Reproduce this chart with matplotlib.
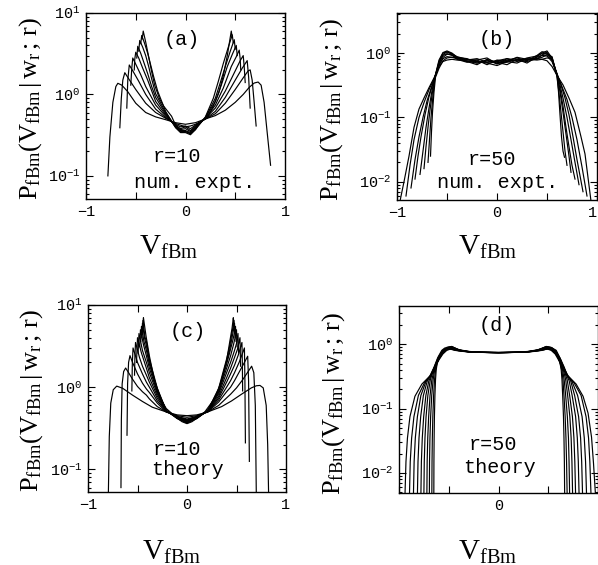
import matplotlib
matplotlib.use('Agg')
import matplotlib.pyplot as plt
from matplotlib.ticker import FixedLocator, FixedFormatter, LogLocator, NullFormatter

plt.rcParams['font.family'] = 'Liberation Mono'
plt.rcParams['mathtext.fontset'] = 'custom'
plt.rcParams['mathtext.rm'] = 'Liberation Serif'
plt.rcParams['mathtext.it'] = 'Liberation Serif:italic'
plt.rcParams['mathtext.bf'] = 'Liberation Serif:bold'
plt.rcParams['mathtext.tt'] = 'Liberation Mono'

# ---- (a) r=10, numerical experiment ----
a_x = [
    [-0.78,-0.76,-0.73,-0.70,-0.68,-0.64,-0.58,-0.50,-0.40,-0.30,-0.20,-0.10,-0.05,0.00,0.05,0.10,0.20,0.30,0.40,0.50,0.58,0.64,0.69,0.73,0.76,0.79,0.82,0.855],
    [-0.66,-0.645,-0.63,-0.61,-0.57,-0.50,-0.40,-0.30,-0.20,-0.10,-0.05,0.00,0.05,0.10,0.20,0.30,0.40,0.50,0.58,0.63,0.65,0.67,0.69,0.71],
    [-0.59,-0.58,-0.565,-0.53,-0.47,-0.40,-0.30,-0.20,-0.10,-0.05,0.00,0.05,0.10,0.20,0.30,0.40,0.50,0.57,0.62,0.635,0.65],
    [-0.55,-0.54,-0.53,-0.50,-0.45,-0.40,-0.30,-0.20,-0.10,-0.05,0.00,0.05,0.10,0.20,0.30,0.40,0.50,0.55,0.58,0.59,0.60],
    [-0.515,-0.51,-0.50,-0.47,-0.43,-0.38,-0.30,-0.20,-0.10,-0.05,0.00,0.05,0.10,0.20,0.30,0.38,0.46,0.51,0.54,0.55,0.555],
    [-0.49,-0.48,-0.45,-0.42,-0.38,-0.34,-0.30,-0.20,-0.10,-0.05,0.00,0.05,0.10,0.20,0.30,0.36,0.42,0.47,0.51,0.52],
    [-0.47,-0.46,-0.43,-0.40,-0.37,-0.34,-0.30,-0.20,-0.10,-0.05,0.00,0.05,0.10,0.20,0.30,0.35,0.40,0.45,0.49,0.50],
    [-0.45,-0.44,-0.41,-0.38,-0.35,-0.32,-0.28,-0.20,-0.10,-0.05,0.00,0.05,0.10,0.20,0.28,0.33,0.38,0.43,0.47,0.48],
    [-0.435,-0.425,-0.40,-0.375,-0.34,-0.31,-0.26,-0.22,-0.14,-0.10,-0.05,0.00,0.05,0.10,0.14,0.22,0.28,0.335,0.38,0.42,0.46,0.47],
]
a_y = [
    [0.10,0.30,0.80,1.25,1.37,1.30,1.08,0.78,0.60,0.53,0.49,0.45,0.44,0.43,0.44,0.45,0.50,0.55,0.64,0.80,1.00,1.22,1.38,1.42,1.30,0.80,0.35,0.135],
    [0.39,0.90,1.50,1.85,1.55,1.15,0.78,0.60,0.51,0.44,0.42,0.40,0.41,0.43,0.50,0.58,0.78,1.15,1.60,1.95,2.00,1.50,0.80,0.41],
    [0.68,1.50,2.30,1.95,1.45,1.00,0.66,0.52,0.43,0.40,0.41,0.38,0.42,0.50,0.62,0.92,1.50,2.10,2.60,1.60,0.68],
    [1.30,2.10,2.80,2.35,1.75,1.25,0.74,0.54,0.42,0.38,0.40,0.36,0.41,0.51,0.68,1.10,1.95,2.60,3.00,2.20,1.40],
    [2.0,2.7,3.3,2.8,2.1,1.5,0.82,0.56,0.41,0.37,0.38,0.35,0.40,0.51,0.74,1.20,2.20,2.90,3.50,2.70,2.00],
    [2.8,3.9,3.2,2.5,1.8,1.25,0.92,0.58,0.40,0.36,0.36,0.34,0.39,0.52,0.82,1.30,2.20,3.10,4.00,3.00],
    [3.4,4.6,3.8,3.0,2.2,1.55,1.02,0.60,0.40,0.35,0.35,0.33,0.38,0.52,0.90,1.40,2.20,3.40,4.70,3.60],
    [4.2,5.3,4.2,3.2,2.3,1.65,1.10,0.62,0.39,0.34,0.34,0.32,0.37,0.53,0.90,1.45,2.40,3.80,5.40,4.30],
    [4.8,6.0,4.4,3.1,1.9,1.30,0.88,0.72,0.54,0.42,0.36,0.35,0.33,0.37,0.45,0.52,0.72,1.05,1.70,3.00,6.00,5.00],
]

# ---- (b) r=50, numerical experiment ----
b_x = [
    [-0.97,-0.93,-0.88,-0.83,-0.78,-0.73,-0.68,-0.62,-0.58,-0.54,-0.50,-0.45,-0.40,-0.30,-0.20,-0.10,0.00,0.10,0.20,0.30,0.40,0.45,0.50,0.55,0.60,0.66,0.72,0.78,0.84,0.88,0.94],
    [-0.91,-0.87,-0.83,-0.78,-0.73,-0.68,-0.62,-0.58,-0.54,-0.50,-0.45,-0.40,-0.30,-0.20,-0.10,0.00,0.10,0.20,0.30,0.40,0.45,0.50,0.55,0.60,0.65,0.70,0.75,0.80,0.85,0.90],
    [-0.86,-0.82,-0.78,-0.74,-0.70,-0.66,-0.62,-0.58,-0.54,-0.50,-0.45,-0.40,-0.30,-0.20,-0.10,0.00,0.10,0.20,0.30,0.40,0.45,0.50,0.55,0.60,0.64,0.68,0.72,0.76,0.80,0.86],
    [-0.82,-0.79,-0.76,-0.72,-0.68,-0.65,-0.62,-0.58,-0.54,-0.50,-0.45,-0.40,-0.30,-0.20,-0.10,0.00,0.10,0.20,0.30,0.40,0.45,0.50,0.55,0.60,0.63,0.66,0.70,0.74,0.78,0.82],
    [-0.77,-0.74,-0.71,-0.68,-0.65,-0.62,-0.58,-0.54,-0.50,-0.45,-0.40,-0.30,-0.20,-0.10,0.00,0.10,0.20,0.30,0.40,0.45,0.50,0.55,0.60,0.63,0.66,0.69,0.72,0.75,0.78],
    [-0.73,-0.71,-0.69,-0.67,-0.645,-0.62,-0.58,-0.54,-0.50,-0.45,-0.40,-0.30,-0.20,-0.10,0.00,0.10,0.20,0.30,0.40,0.45,0.50,0.55,0.60,0.63,0.66,0.69,0.72,0.74],
    [-0.69,-0.675,-0.66,-0.64,-0.62,-0.58,-0.54,-0.50,-0.45,-0.40,-0.30,-0.20,-0.10,0.00,0.10,0.20,0.30,0.40,0.45,0.50,0.55,0.60,0.62,0.64,0.66,0.68,0.70],
    [-0.665,-0.655,-0.645,-0.63,-0.615,-0.58,-0.54,-0.50,-0.45,-0.40,-0.30,-0.20,-0.10,0.00,0.10,0.20,0.30,0.40,0.45,0.50,0.55,0.60,0.615,0.63,0.645,0.66,0.675],
]
b_y = [
    [0.005,0.010,0.025,0.07,0.135,0.20,0.29,0.44,0.62,0.74,0.78,0.80,0.78,0.76,0.74,0.72,0.74,0.76,0.78,0.80,0.82,0.80,0.76,0.62,0.45,0.32,0.20,0.12,0.05,0.027,0.005],
    [0.006,0.018,0.045,0.10,0.17,0.27,0.43,0.66,0.82,0.88,0.86,0.82,0.74,0.70,0.76,0.70,0.72,0.80,0.78,0.86,0.92,0.90,0.74,0.47,0.30,0.19,0.10,0.045,0.017,0.006],
    [0.008,0.022,0.05,0.10,0.18,0.28,0.43,0.70,0.92,0.98,0.92,0.84,0.78,0.82,0.72,0.76,0.82,0.74,0.84,0.90,1.00,0.96,0.78,0.48,0.32,0.20,0.11,0.05,0.022,0.007],
    [0.011,0.025,0.05,0.11,0.21,0.30,0.43,0.74,1.00,1.05,0.95,0.80,0.72,0.78,0.84,0.68,0.78,0.84,0.76,0.92,1.05,1.02,0.80,0.47,0.32,0.20,0.10,0.045,0.02,0.009],
    [0.013,0.03,0.07,0.14,0.26,0.43,0.78,1.02,1.08,1.00,0.86,0.74,0.66,0.80,0.72,0.66,0.80,0.70,0.88,1.00,1.08,0.84,0.46,0.28,0.15,0.07,0.035,0.018,0.011],
    [0.016,0.035,0.07,0.13,0.25,0.42,0.70,0.95,1.04,0.98,0.88,0.80,0.74,0.70,0.64,0.74,0.70,0.82,0.80,0.94,1.00,0.86,0.45,0.25,0.12,0.055,0.025,0.014],
    [0.020,0.045,0.10,0.22,0.42,0.64,0.86,0.96,0.94,0.86,0.82,0.70,0.78,0.68,0.82,0.76,0.74,0.82,0.86,0.94,0.88,0.44,0.24,0.12,0.06,0.03,0.018],
    [0.025,0.06,0.12,0.25,0.42,0.58,0.76,0.84,0.86,0.84,0.80,0.78,0.66,0.78,0.74,0.86,0.80,0.78,0.80,0.84,0.82,0.44,0.25,0.11,0.05,0.03,0.024],
]

# ---- (c) r=10, theory ----
c_x = [
    [-0.795,-0.785,-0.77,-0.745,-0.71,-0.65,-0.55,-0.45,-0.35,-0.21,-0.10,0.00,0.10,0.21,0.35,0.45,0.55,0.65,0.70,0.737,0.77,0.80,0.815,0.825],
    [-0.667,-0.663,-0.655,-0.64,-0.62,-0.59,-0.55,-0.50,-0.45,-0.41,-0.38,-0.30,-0.21,-0.10,0.00,0.10,0.21,0.32,0.40,0.44,0.50,0.56,0.61,0.653,0.675,0.69,0.70],
    [-0.606,-0.600,-0.59,-0.576,-0.55,-0.50,-0.45,-0.41,-0.38,-0.30,-0.21,-0.10,0.00,0.10,0.21,0.32,0.40,0.44,0.48,0.53,0.58,0.613,0.622,0.63],
    [-0.557,-0.552,-0.545,-0.50,-0.45,-0.41,-0.38,-0.30,-0.21,-0.10,0.00,0.10,0.21,0.32,0.40,0.44,0.48,0.53,0.58,0.585,0.59],
    [-0.53,-0.526,-0.52,-0.48,-0.45,-0.41,-0.38,-0.30,-0.21,-0.10,0.00,0.10,0.21,0.32,0.40,0.44,0.48,0.52,0.555,0.559,0.562],
    [-0.51,-0.505,-0.50,-0.46,-0.41,-0.38,-0.30,-0.21,-0.10,0.00,0.10,0.21,0.32,0.40,0.44,0.48,0.51,0.535,0.538,0.541],
    [-0.494,-0.49,-0.485,-0.45,-0.41,-0.38,-0.30,-0.21,-0.10,0.00,0.10,0.21,0.32,0.40,0.44,0.48,0.50,0.515,0.518,0.521],
    [-0.478,-0.474,-0.47,-0.44,-0.41,-0.38,-0.30,-0.21,-0.10,0.00,0.10,0.21,0.32,0.40,0.44,0.47,0.49,0.50,0.503,0.506],
    [-0.467,-0.463,-0.46,-0.435,-0.41,-0.38,-0.30,-0.21,-0.10,0.00,0.10,0.21,0.32,0.40,0.43,0.46,0.48,0.49,0.493,0.496],
    [-0.456,-0.453,-0.45,-0.43,-0.41,-0.38,-0.30,-0.21,-0.10,0.00,0.10,0.21,0.32,0.40,0.43,0.455,0.47,0.48,0.483,0.486],
    [-0.45,-0.448,-0.445,-0.425,-0.41,-0.38,-0.30,-0.21,-0.10,0.00,0.10,0.21,0.32,0.40,0.43,0.45,0.465,0.475,0.478,0.48],
    [-0.447,-0.444,-0.44,-0.414,-0.38,-0.33,-0.26,-0.21,-0.145,-0.10,-0.05,0.00,0.05,0.10,0.18,0.283,0.35,0.40,0.434,0.455,0.468,0.472,0.475],
]
c_y = [
    [0.045,0.25,0.64,0.93,1.03,0.97,0.80,0.67,0.57,0.50,0.46,0.45,0.46,0.50,0.58,0.68,0.82,0.98,1.04,1.05,0.98,0.60,0.20,0.045],
    [0.06,0.40,1.10,1.55,1.71,1.50,1.25,1.02,0.88,0.80,0.72,0.58,0.50,0.45,0.43,0.45,0.50,0.60,0.74,0.82,0.98,1.22,1.50,1.80,1.50,0.60,0.05],
    [0.26,1.10,2.00,2.42,2.00,1.45,1.12,0.95,0.86,0.64,0.50,0.44,0.41,0.44,0.50,0.66,0.88,1.00,1.20,1.55,2.00,2.38,1.20,0.125],
    [0.9,2.0,3.0,2.0,1.45,1.15,1.0,0.68,0.51,0.44,0.40,0.44,0.51,0.70,1.00,1.20,1.50,2.05,3.00,1.20,0.21],
    [1.4,2.4,3.5,2.3,1.8,1.4,1.15,0.73,0.51,0.435,0.395,0.435,0.51,0.74,1.15,1.45,1.85,2.50,3.50,2.00,0.90],
    [2.0,2.9,4.0,2.6,1.7,1.3,0.78,0.515,0.43,0.39,0.43,0.515,0.78,1.30,1.70,2.30,2.90,4.00,2.80,1.80],
    [2.6,3.4,4.5,2.8,2.0,1.5,0.83,0.52,0.43,0.385,0.43,0.52,0.83,1.50,2.00,2.80,3.40,4.50,3.40,2.60],
    [3.1,3.9,5.0,3.3,2.4,1.7,0.87,0.52,0.425,0.38,0.425,0.52,0.87,1.70,2.40,3.30,4.20,5.00,3.90,3.10],
    [3.6,4.4,5.5,3.6,2.8,1.9,0.91,0.52,0.42,0.375,0.42,0.52,0.91,1.90,2.60,3.60,4.60,5.50,4.40,3.60],
    [4.0,4.8,6.0,4.0,3.2,2.05,0.94,0.52,0.42,0.37,0.42,0.52,0.94,2.05,2.80,4.00,5.00,6.00,4.80,4.00],
    [4.4,5.2,6.5,4.1,3.6,2.2,0.97,0.52,0.415,0.365,0.415,0.52,0.97,2.20,3.10,4.30,5.40,6.50,5.30,4.60],
    [5.0,6.0,7.0,4.2,2.4,1.23,0.70,0.55,0.47,0.42,0.38,0.36,0.38,0.42,0.50,0.74,1.20,2.10,3.70,5.20,7.00,6.00,5.20],
]

# ---- (d) r=50, theory ----
d_x = [
    [-0.94,-0.93,-0.915,-0.89,-0.84,-0.77,-0.69,-0.65,-0.61,-0.57,-0.54,-0.50,-0.44,-0.36,-0.25,-0.12,0.00,0.12,0.25,0.36,0.44,0.50,0.54,0.58,0.62,0.66,0.70,0.78,0.85,0.90,0.935,0.955,0.975],
    [-0.895,-0.887,-0.873,-0.85,-0.805,-0.745,-0.68,-0.645,-0.61,-0.57,-0.53,-0.49,-0.42,-0.34,-0.22,-0.10,0.00,0.10,0.22,0.34,0.42,0.50,0.54,0.58,0.62,0.66,0.69,0.76,0.83,0.88,0.905,0.918,0.93],
    [-0.855,-0.848,-0.836,-0.815,-0.78,-0.73,-0.675,-0.64,-0.61,-0.57,-0.52,-0.48,-0.40,-0.30,-0.18,0.00,0.18,0.30,0.40,0.49,0.53,0.58,0.62,0.65,0.685,0.74,0.795,0.84,0.862,0.875,0.885],
    [-0.815,-0.809,-0.799,-0.782,-0.755,-0.715,-0.67,-0.635,-0.60,-0.56,-0.52,-0.47,-0.40,-0.30,-0.18,0.00,0.18,0.30,0.40,0.48,0.53,0.57,0.61,0.645,0.68,0.725,0.765,0.805,0.825,0.836,0.845],
    [-0.78,-0.775,-0.766,-0.752,-0.73,-0.70,-0.665,-0.635,-0.60,-0.56,-0.51,-0.46,-0.38,-0.28,-0.15,0.00,0.15,0.28,0.38,0.47,0.52,0.57,0.61,0.645,0.675,0.71,0.74,0.775,0.792,0.802,0.81],
    [-0.75,-0.746,-0.739,-0.728,-0.71,-0.685,-0.66,-0.63,-0.60,-0.56,-0.51,-0.46,-0.38,-0.28,-0.15,0.00,0.15,0.28,0.38,0.47,0.52,0.57,0.605,0.635,0.665,0.69,0.715,0.743,0.758,0.767,0.775],
    [-0.72,-0.717,-0.711,-0.702,-0.688,-0.67,-0.65,-0.625,-0.595,-0.56,-0.52,-0.48,-0.40,-0.30,-0.15,0.00,0.15,0.30,0.40,0.49,0.53,0.57,0.60,0.63,0.655,0.675,0.695,0.717,0.73,0.738,0.745],
    [-0.695,-0.693,-0.689,-0.682,-0.671,-0.657,-0.642,-0.622,-0.595,-0.56,-0.52,-0.47,-0.40,-0.30,-0.15,0.00,0.15,0.30,0.40,0.48,0.53,0.57,0.60,0.625,0.645,0.66,0.675,0.692,0.703,0.709,0.715],
    [-0.67,-0.668,-0.665,-0.66,-0.652,-0.643,-0.633,-0.618,-0.595,-0.56,-0.52,-0.48,-0.40,-0.30,-0.15,0.00,0.15,0.30,0.40,0.49,0.53,0.57,0.60,0.62,0.637,0.648,0.658,0.67,0.678,0.684,0.69],
    [-0.65,-0.649,-0.647,-0.644,-0.639,-0.633,-0.626,-0.615,-0.595,-0.56,-0.52,-0.48,-0.40,-0.30,-0.15,0.00,0.15,0.30,0.40,0.49,0.53,0.57,0.60,0.617,0.63,0.638,0.645,0.653,0.658,0.662,0.665],
]
d_y = [
    [0.0045,0.015,0.035,0.075,0.155,0.24,0.32,0.43,0.62,0.80,0.87,0.85,0.80,0.77,0.75,0.74,0.735,0.74,0.75,0.77,0.80,0.85,0.87,0.80,0.60,0.42,0.32,0.24,0.155,0.085,0.036,0.014,0.0045],
    [0.0045,0.015,0.035,0.075,0.16,0.25,0.33,0.44,0.60,0.76,0.86,0.88,0.81,0.77,0.75,0.74,0.74,0.74,0.75,0.77,0.81,0.88,0.86,0.76,0.60,0.44,0.33,0.25,0.16,0.075,0.035,0.015,0.0045],
    [0.0045,0.015,0.035,0.075,0.16,0.26,0.34,0.45,0.58,0.74,0.88,0.90,0.82,0.77,0.75,0.74,0.75,0.77,0.82,0.90,0.88,0.74,0.58,0.45,0.34,0.26,0.16,0.075,0.035,0.015,0.0045],
    [0.0045,0.015,0.035,0.075,0.16,0.27,0.35,0.46,0.60,0.75,0.87,0.91,0.81,0.76,0.745,0.735,0.745,0.76,0.81,0.91,0.87,0.75,0.60,0.46,0.35,0.27,0.16,0.075,0.035,0.015,0.0045],
    [0.0045,0.015,0.035,0.075,0.16,0.27,0.36,0.46,0.58,0.72,0.84,0.86,0.80,0.76,0.745,0.74,0.745,0.76,0.80,0.86,0.84,0.72,0.58,0.46,0.36,0.27,0.16,0.075,0.035,0.015,0.0045],
    [0.0045,0.015,0.035,0.075,0.16,0.28,0.37,0.47,0.60,0.76,0.89,0.90,0.80,0.76,0.745,0.735,0.745,0.76,0.80,0.90,0.89,0.76,0.60,0.47,0.37,0.28,0.16,0.075,0.035,0.015,0.0045],
    [0.0045,0.015,0.035,0.075,0.16,0.28,0.38,0.48,0.58,0.70,0.80,0.84,0.79,0.76,0.745,0.74,0.745,0.76,0.79,0.84,0.80,0.70,0.58,0.48,0.38,0.28,0.16,0.075,0.035,0.015,0.0045],
    [0.0045,0.015,0.035,0.075,0.16,0.28,0.39,0.49,0.62,0.78,0.89,0.92,0.81,0.76,0.745,0.74,0.745,0.76,0.81,0.92,0.89,0.78,0.62,0.49,0.39,0.28,0.16,0.075,0.035,0.015,0.0045],
    [0.0045,0.015,0.035,0.075,0.16,0.28,0.39,0.50,0.62,0.74,0.82,0.84,0.79,0.755,0.745,0.74,0.745,0.755,0.79,0.84,0.82,0.74,0.62,0.50,0.39,0.28,0.16,0.075,0.035,0.015,0.0045],
    [0.0045,0.015,0.035,0.075,0.16,0.28,0.40,0.52,0.66,0.80,0.88,0.89,0.80,0.76,0.745,0.735,0.745,0.76,0.80,0.89,0.88,0.80,0.66,0.52,0.40,0.28,0.16,0.075,0.035,0.015,0.0045],
]

panel_tags = ['(a)', '(b)', '(c)', '(d)']
r_labels = ['r=10', 'r=50', 'r=10', 'r=50']
kind_labels = ['num. expt.', 'num. expt.', 'theory', 'theory']

W, H = 598, 565
fig = plt.figure(figsize=(W / 100, H / 100), dpi=100)

def px_axes(left, top, right, bottom):
    return fig.add_axes([left / W, 1 - bottom / H, (right - left) / W, (bottom - top) / H])

ax_a = px_axes(86, 13, 285, 199)
ax_b = px_axes(397, 13, 597, 200)
ax_c = px_axes(88, 305, 286, 492)
ax_d = px_axes(399, 306, 598, 493)
axes = [ax_a, ax_b, ax_c, ax_d]

data = [(a_x, a_y), (b_x, b_y), (c_x, c_y), (d_x, d_y)]
ylims = [(0.052, 10), (0.0052, 4.2), (0.053, 10), (0.0049, 3.9)]
ydecades = [[0.1, 1, 10], [0.01, 0.1, 1], [0.1, 1, 10], [0.01, 0.1, 1]]
ydec_labels = [
    [r'$\mathtt{10}^{\mathtt{-1}}$', r'$\mathtt{10}^{\mathtt{0}}$', r'$\mathtt{10}^{\mathtt{1}}$'],
    [r'$\mathtt{10}^{\mathtt{-2}}$', r'$\mathtt{10}^{\mathtt{-1}}$', r'$\mathtt{10}^{\mathtt{0}}$'],
    [r'$\mathtt{10}^{\mathtt{-1}}$', r'$\mathtt{10}^{\mathtt{0}}$', r'$\mathtt{10}^{\mathtt{1}}$'],
    [r'$\mathtt{10}^{\mathtt{-2}}$', r'$\mathtt{10}^{\mathtt{-1}}$', r'$\mathtt{10}^{\mathtt{0}}$'],
]
xtick_labels = [['\u22121', '0', '1'], ['\u22121', '0', '1'], ['\u22121', '0', '1'], ['', '0', '']]

# text positions in axes fraction
tag_pos = [(0.48, 0.855), (0.4975, 0.856), (0.505, 0.856), (0.49, 0.895)]
r_pos = [(0.457, 0.226), (0.473, 0.214), (0.449, 0.225), (0.47, 0.257)]
kind_pos = [(0.548, 0.091), (0.5025, 0.096), (0.505, 0.118), (0.505, 0.134)]

for i, ax in enumerate(axes):
    xs, ys = data[i]
    for x, y in zip(xs, ys):
        ax.plot(x, y, color='black', lw=0.85)
    ax.set_yscale('log')
    ax.set_xlim(-1, 1)
    ax.set_ylim(*ylims[i])
    ax.xaxis.set_major_locator(FixedLocator([-1, 0, 1]))
    ax.xaxis.set_major_formatter(FixedFormatter(xtick_labels[i]))
    ax.xaxis.set_minor_locator(FixedLocator([-0.5, 0.5]))
    ax.yaxis.set_major_locator(FixedLocator(ydecades[i]))
    ax.yaxis.set_major_formatter(FixedFormatter(ydec_labels[i]))
    ax.yaxis.set_minor_locator(LogLocator(base=10, subs=range(2, 10)))
    ax.yaxis.set_minor_formatter(NullFormatter())
    ax.tick_params(which='both', direction='in', top=True, right=True, width=0.8)
    ax.tick_params(which='major', length=5, labelsize=11, pad=4)
    ax.tick_params(axis='x', which='minor', length=5)
    ax.tick_params(axis='y', which='minor', length=2.5)
    for s in ax.spines.values():
        s.set_linewidth(1.0)
    ax.text(*tag_pos[i], panel_tags[i], transform=ax.transAxes, ha='center', va='center', fontsize=14.5)
    ax.text(*r_pos[i], r_labels[i], transform=ax.transAxes, ha='center', va='center', fontsize=14.5)
    ax.text(*kind_pos[i], kind_labels[i], transform=ax.transAxes, ha='center', va='center', fontsize=14.5)

# keep the "1" at the right edge of (b) inside the figure
fig.canvas.draw()
ax_b.get_xticklabels()[-1].set_horizontalalignment('right')

ylab = r'$\mathrm{P_{fBm}(V_{fBm}\,|\,w_r\,;\,r)}$'
xlab = r'$\mathrm{V_{fBm}}$'
ylab_pos = [(31, 108), (332, 109), (32, 400), (334, 403)]
xlab_pos = [(169, 255), (488, 255), (172, 560), (488, 560)]
for (x, y) in ylab_pos:
    fig.text(x / W, 1 - y / H, ylab, rotation=90, ha='center', va='center', fontsize=19)
for (x, y) in xlab_pos:
    fig.text(x / W, 1 - y / H, xlab, ha='center', va='baseline', fontsize=21)

fig.savefig('out.png', dpi=100)
